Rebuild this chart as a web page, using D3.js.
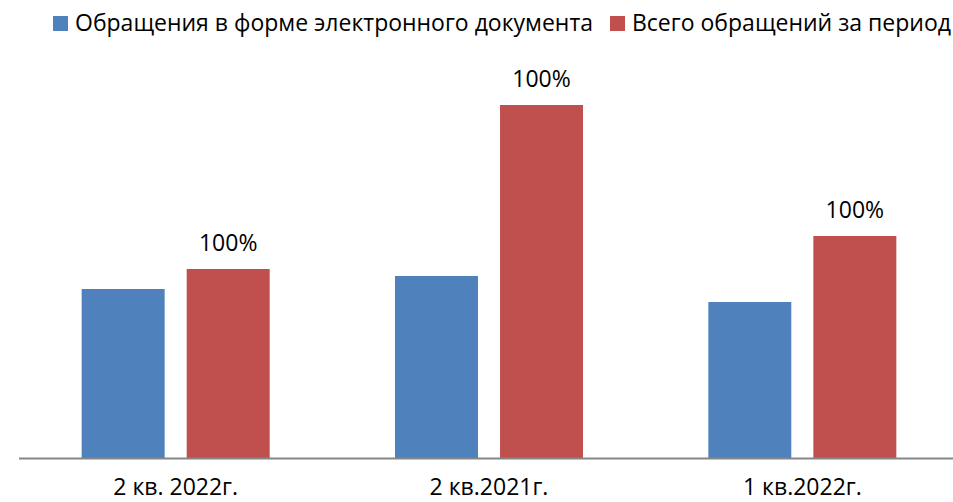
<!DOCTYPE html>
<html>
<head>
<meta charset="utf-8">
<script src="https://cdn.jsdelivr.net/npm/d3@7"></script>
<style>
  html, body { margin: 0; padding: 0; background: #fff; }
  svg { display: block; font-family: "Open Sans", sans-serif; }
</style>
</head>
<body>
<svg id="chart"></svg>
<script>
// Chart data
const categories = ['2 кв. 2022г.', '2 кв.2021г.', '1 кв.2022г.'];
const seriesNames = ['Обращения в форме электронного документа', 'Всего обращений за период'];
const electronic = [169, 182, 156];
const total = [189, 353, 222];
const totalLabels = ['100%', '100%', '100%'];
const colors = ['#4F81BD', '#C0504D'];

const width = 953;
const height = 502;
const fontSize = 23;
// legend text spans, to mimic the narrower original face
const legendWidths = [518, 319];

const svg = d3.select('#chart')
    .attr('width', width)
    .attr('height', height);

const baseY = 458;

const x0 = d3.scaleBand()
    .domain(categories)
    .range([19, 959])
    .paddingInner(0.4)
    .paddingOuter(0.2);

const x1 = d3.scaleBand()
    .domain([0, 1])
    .range([0, x0.bandwidth()])
    .paddingInner(0.21);

const y = d3.scaleLinear()
    .domain([0, 400])
    .range([baseY, baseY - 400]);

const rows = categories.map((c, i) => ({ cat: c, values: [electronic[i], total[i]], label: totalLabels[i] }));

const groups = svg.append('g')
    .selectAll('g')
    .data(rows)
    .join('g')
    .attr('transform', d => `translate(${x0(d.cat)},0)`);

groups.selectAll('rect')
    .data(d => d.values.map((v, k) => ({ k, v })))
    .join('rect')
    .attr('x', d => x1(d.k))
    .attr('y', d => y(d.v))
    .attr('width', x1.bandwidth())
    .attr('height', d => y(0) - y(d.v))
    .attr('fill', d => colors[d.k]);

// data labels over the totals
groups.append('text')
    .attr('x', x1(1) + x1.bandwidth() / 2)
    .attr('y', d => y(d.values[1]) - 18)
    .attr('text-anchor', 'middle')
    .attr('font-size', fontSize)
    .attr('fill', '#000')
    .text(d => d.label);

// x axis
const xAxis = svg.append('g')
    .attr('transform', `translate(0,${baseY})`)
    .call(d3.axisBottom(x0).tickSize(0).tickPadding(0));
xAxis.select('.domain')
    .attr('d', `M19,0.5H${width}`)
    .attr('stroke', '#868686')
    .attr('stroke-width', 2);
xAxis.selectAll('text')
    .attr('dy', null)
    .attr('y', 37)
    .attr('font-family', '"Open Sans", sans-serif')
    .attr('font-size', fontSize)
    .attr('fill', '#000');

// legend
const legend = svg.append('g');
let lx = 53;
seriesNames.forEach((name, i) => {
    legend.append('rect')
        .attr('x', lx)
        .attr('y', 16)
        .attr('width', 15)
        .attr('height', 15)
        .attr('fill', colors[i]);
    legend.append('text')
        .attr('x', lx + 22)
        .attr('y', 31)
        .attr('font-size', fontSize)
        .attr('fill', '#000')
        .attr('textLength', legendWidths[i])
        .attr('lengthAdjust', 'spacingAndGlyphs')
        .text(name);
    lx += 22 + legendWidths[i] + 17;
});
</script>
</body>
</html>
